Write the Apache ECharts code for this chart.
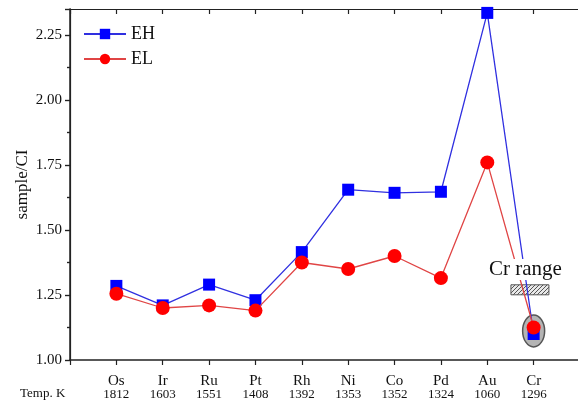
<!DOCTYPE html>
<html>
<head>
<meta charset="utf-8">
<script src="https://cdn.jsdelivr.net/npm/echarts@6/dist/echarts.min.js"></script>
<style>
  html, body { margin: 0; padding: 0; background: #fff; }
  #main { width: 578px; height: 400px; }
</style>
</head>
<body>
<div id="main"></div>
<script>
// elements and their temperatures (K)
const elements = ['Os', 'Ir', 'Ru', 'Pt', 'Rh', 'Ni', 'Co', 'Pd', 'Au', 'Cr'];
const temps = ['1812', '1603', '1551', '1408', '1392', '1353', '1352', '1324', '1060', '1296'];
const ehValues = [1.285, 1.21, 1.29, 1.23, 1.415, 1.655, 1.643, 1.647, 2.335, 1.10];
const elValues = [1.255, 1.20, 1.21, 1.19, 1.375, 1.35, 1.40, 1.315, 1.76, 1.125];

const serif = 'Liberation Serif';

var chartDom = document.getElementById('main');
var myChart = echarts.init(chartDom);

// hatch pattern for the "Cr range" box
function hatch() {
    const c = document.createElement('canvas');
    c.width = 4; c.height = 4;
    const g = c.getContext('2d');
    g.fillStyle = '#e8e8e8';
    g.fillRect(0, 0, 4, 4);
    g.strokeStyle = '#555';
    g.lineWidth = 1;
    g.beginPath();
    g.moveTo(0, 4); g.lineTo(4, 0);
    g.moveTo(-1, 1); g.lineTo(1, -1);
    g.moveTo(3, 5); g.lineTo(5, 3);
    g.stroke();
    return c;
}

const toPairs = vals => vals.map((v, i) => [i + 1, v]);

var option = {
    animation: false,
    textStyle: { fontFamily: serif },
    grid: { left: 70, right: -2, top: 9, bottom: 40, outerBoundsMode: 'none', containLabel: false },
    legend: {
        orient: 'vertical',
        left: 78,
        top: 20,
        itemWidth: 42,
        itemHeight: 13,
        itemGap: 7,
        textStyle: { fontFamily: serif, fontSize: 18, color: '#111' },
        data: ['EH', 'EL']
    },
    xAxis: [{
        type: 'value',
        min: 0,
        max: 11,
        interval: 1,
        axisLine: { lineStyle: { color: '#222', width: 1.5 } },
        axisTick: { inside: false, length: 5, lineStyle: { color: '#222', width: 1.2 } },
        splitLine: { show: false },
        axisLabel: {
            margin: 15,
            formatter: v => (v >= 1 && v <= 10) ? '{n|' + elements[v - 1] + '}\n{t|' + temps[v - 1] + '}' : '',
            rich: {
                n: { fontFamily: serif, fontSize: 15, color: '#111', lineHeight: 13 },
                t: { fontFamily: serif, fontSize: 13, color: '#111', lineHeight: 13 }
            }
        }
    }, {
        type: 'value',
        position: 'top',
        min: 0,
        max: 11,
        interval: 1,
        axisLine: { show: true, onZero: false, lineStyle: { color: '#222', width: 1.2 } },
        axisTick: { show: true, inside: true, length: 5, lineStyle: { color: '#222', width: 1.2 } },
        axisLabel: { show: false },
        splitLine: { show: false }
    }],
    yAxis: [{
        type: 'value',
        min: 1.0,
        max: 2.35,
        interval: 0.25,
        name: 'sample/CI',
        nameLocation: 'middle',
        nameGap: 39,
        nameMoveOverlap: false,
        nameTextStyle: { fontFamily: serif, fontSize: 17, color: '#111' },
        axisLine: { show: true, lineStyle: { color: '#222', width: 1.5 } },
        axisTick: { show: true, length: 5, lineStyle: { color: '#222', width: 1.2 } },
        minorTick: { show: true, splitNumber: 2, length: 3, lineStyle: { color: '#222', width: 1.2 } },
        splitLine: { show: false },
        axisLabel: {
            fontFamily: serif, fontSize: 15, color: '#111', margin: 8,
            showMaxLabel: false,
            formatter: v => v > 2.3 ? '' : v.toFixed(2)
        }
    }, {
        type: 'value',
        position: 'right',
        min: 1.0,
        max: 2.35,
        interval: 0.25,
        axisLine: { show: true, lineStyle: { color: '#222', width: 1.2 } },
        axisTick: { show: true, inside: true, length: 5, lineStyle: { color: '#222', width: 1.2 } },
        minorTick: { show: true, splitNumber: 2, length: 3, lineStyle: { color: '#222', width: 1.2 } },
        axisLabel: { show: false },
        splitLine: { show: false }
    }],
    series: [{
        name: 'EH',
        type: 'line',
        data: toPairs(ehValues),
        symbol: 'rect',
        symbolSize: 12,
        z: 3,
        itemStyle: { color: '#0000ff' },
        lineStyle: { color: '#3030e0', width: 1.3 }
    }, {
        name: 'EL',
        type: 'line',
        data: toPairs(elValues),
        symbol: 'circle',
        symbolSize: 14,
        z: 4,
        itemStyle: { color: '#ff0000' },
        lineStyle: { color: '#e04545', width: 1.3 }
    }]
};

option && myChart.setOption(option);

// annotations around the Cr point
const crCenter = myChart.convertToPixel({ xAxisIndex: 0, yAxisIndex: 0 }, [10, 1.112]);
const boxCenter = myChart.convertToPixel({ xAxisIndex: 0, yAxisIndex: 0 }, [9.92, 1.27]);
myChart.setOption({
    graphic: [{
        type: 'ellipse',
        z: 1,
        shape: { cx: crCenter[0], cy: crCenter[1], rx: 11, ry: 16 },
        style: { fill: '#b4b4b4', stroke: '#555', lineWidth: 1.5 }
    }, {
        type: 'rect',
        z: 1,
        shape: { x: boxCenter[0] - 19, y: boxCenter[1] - 5, width: 38, height: 10 },
        style: { fill: { image: hatch(), repeat: 'repeat' }, stroke: '#555', lineWidth: 1 }
    }, {
        type: 'text',
        z: 100,
        left: 489,
        top: 259,
        style: {
            text: 'Cr range',
            fontFamily: serif,
            fontSize: 21,
            fill: '#111',
            backgroundColor: '#fff'
        }
    }, {
        type: 'text',
        left: 20,
        top: 387,
        style: { text: 'Temp. K', fontFamily: serif, fontSize: 13, fill: '#111' }
    }]
});
</script>
</body>
</html>
